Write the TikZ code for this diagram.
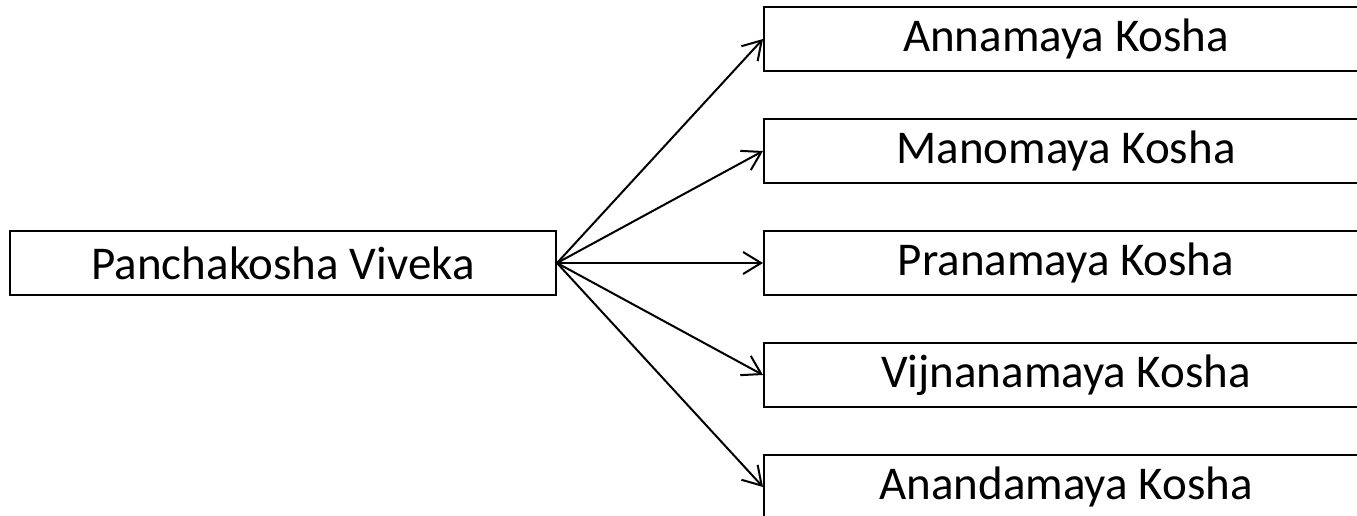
\documentclass[tikz,border=0pt]{standalone}
\usepackage{fontspec}
\setmainfont{Carlito}
\usetikzlibrary{arrows.meta}
\begin{document}
\begin{tikzpicture}[x=1pt,y=-1pt,
  box/.style={draw, line width=2pt, rectangle, minimum height=64pt, inner sep=0pt, font=\fontsize{47}{56}\selectfont},
  lbox/.style={box, minimum width=546pt},
  rbox/.style={box, minimum width=604pt},
  link/.style={line width=2pt, -{Straight Barb[length=18pt,width=22pt,line width=2pt]}}]
\useasboundingbox (0,0) rectangle (1357,516);
\node[lbox] (pv) at (283,263) {Panchakosha Viveka};
\node[rbox] (an) at (1066,39) {Annamaya Kosha};
\node[rbox] (mn) at (1066,151) {Manomaya Kosha};
\node[rbox] (pr) at (1066,263) {Pranamaya Kosha};
\node[rbox] (vj) at (1066,375) {Vijnanamaya Kosha};
\node[rbox] (ad) at (1066,487) {Anandamaya Kosha};
\draw[link] (pv.east) -- (an.west);
\draw[link] (pv.east) -- (mn.west);
\draw[link] (pv.east) -- (pr.west);
\draw[link] (pv.east) -- (vj.west);
\draw[link] (pv.east) -- (ad.west);
\end{tikzpicture}
\end{document}
